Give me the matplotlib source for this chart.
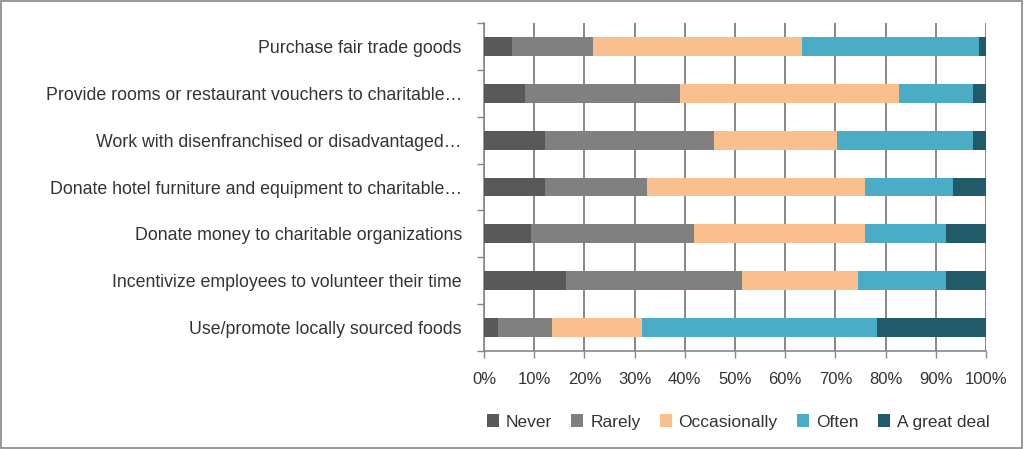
import numpy as np
import matplotlib.pyplot as plt
from matplotlib.patches import Rectangle

categories = [
    'Purchase fair trade goods',
    'Provide rooms or restaurant vouchers to charitable…',
    'Work with disenfranchised or disadvantaged…',
    'Donate hotel furniture and equipment to charitable…',
    'Donate money to charitable organizations',
    'Incentivize employees to volunteer their time',
    'Use/promote locally sourced foods',
]
series_names = ['Never', 'Rarely', 'Occasionally', 'Often', 'A great deal']
never = [5.5, 8.2, 12.2, 12.2, 9.4, 16.3, 2.7]
rarely = [16.2, 30.9, 33.7, 20.3, 32.5, 35.0, 10.9]
occasionally = [41.7, 43.5, 24.5, 43.4, 34.0, 23.2, 17.8]
often = [35.3, 14.9, 27.1, 17.6, 16.1, 17.5, 46.8]
great_deal = [1.3, 2.5, 2.5, 6.5, 8.0, 8.0, 21.8]
colors = ['#595959', '#808080', '#F9BF8F', '#4BACC6', '#215A69']

plt.rcParams['font.family'] = ['Liberation Sans', 'DejaVu Sans']
txt = '#333333'

fig = plt.figure(figsize=(10.24, 4.49), dpi=100)
ax = fig.add_axes([484 / 1024, 1 - 351 / 449, 502 / 1024, 328 / 449])

y = np.arange(len(categories))
left = np.zeros(len(categories))
for name, vals, c in zip(series_names, [never, rarely, occasionally, often, great_deal], colors):
    vals = np.array(vals) / 100.0
    ax.barh(y, vals, left=left, height=0.4, color=c, label=name, zorder=3)
    left += vals

ax.set_ylim(len(categories) - 0.5, -0.5)
ax.set_xlim(0, 1)
ax.set_xticks(np.linspace(0, 1, 11))
ax.set_xticklabels([f'{i}%' for i in range(0, 101, 10)], fontsize=12, color=txt)
ax.set_yticks(y)
ax.set_yticklabels(categories, fontsize=12.8, color=txt)
ax.set_yticks(np.arange(-0.5, len(categories), 1), minor=True)
ax.tick_params(axis='y', which='major', length=0, pad=16)
ax.tick_params(axis='y', which='minor', length=5, color='#888888', width=1)
ax.tick_params(axis='x', length=5, color='#888888', width=1, pad=10)
ax.grid(axis='x', color='#888888', linewidth=1.4, zorder=0)
for s in ['top', 'right']:
    ax.spines[s].set_visible(False)
for s in ['left', 'bottom']:
    ax.spines[s].set_color('#888888')
    ax.spines[s].set_linewidth(1.2)

fig.legend(loc='center', bbox_to_anchor=(738 / 1024, 1 - 422 / 449), ncol=5,
           frameon=False, fontsize=12.5, handlelength=0.7, handleheight=0.7,
           handletextpad=0.4, columnspacing=1.1, labelcolor=txt)

fig.patches.append(Rectangle((0.001, 0.002), 0.997, 0.995, transform=fig.transFigure,
                             fill=False, edgecolor='#888888', linewidth=1.2))

fig.savefig('out.png', dpi=100)
